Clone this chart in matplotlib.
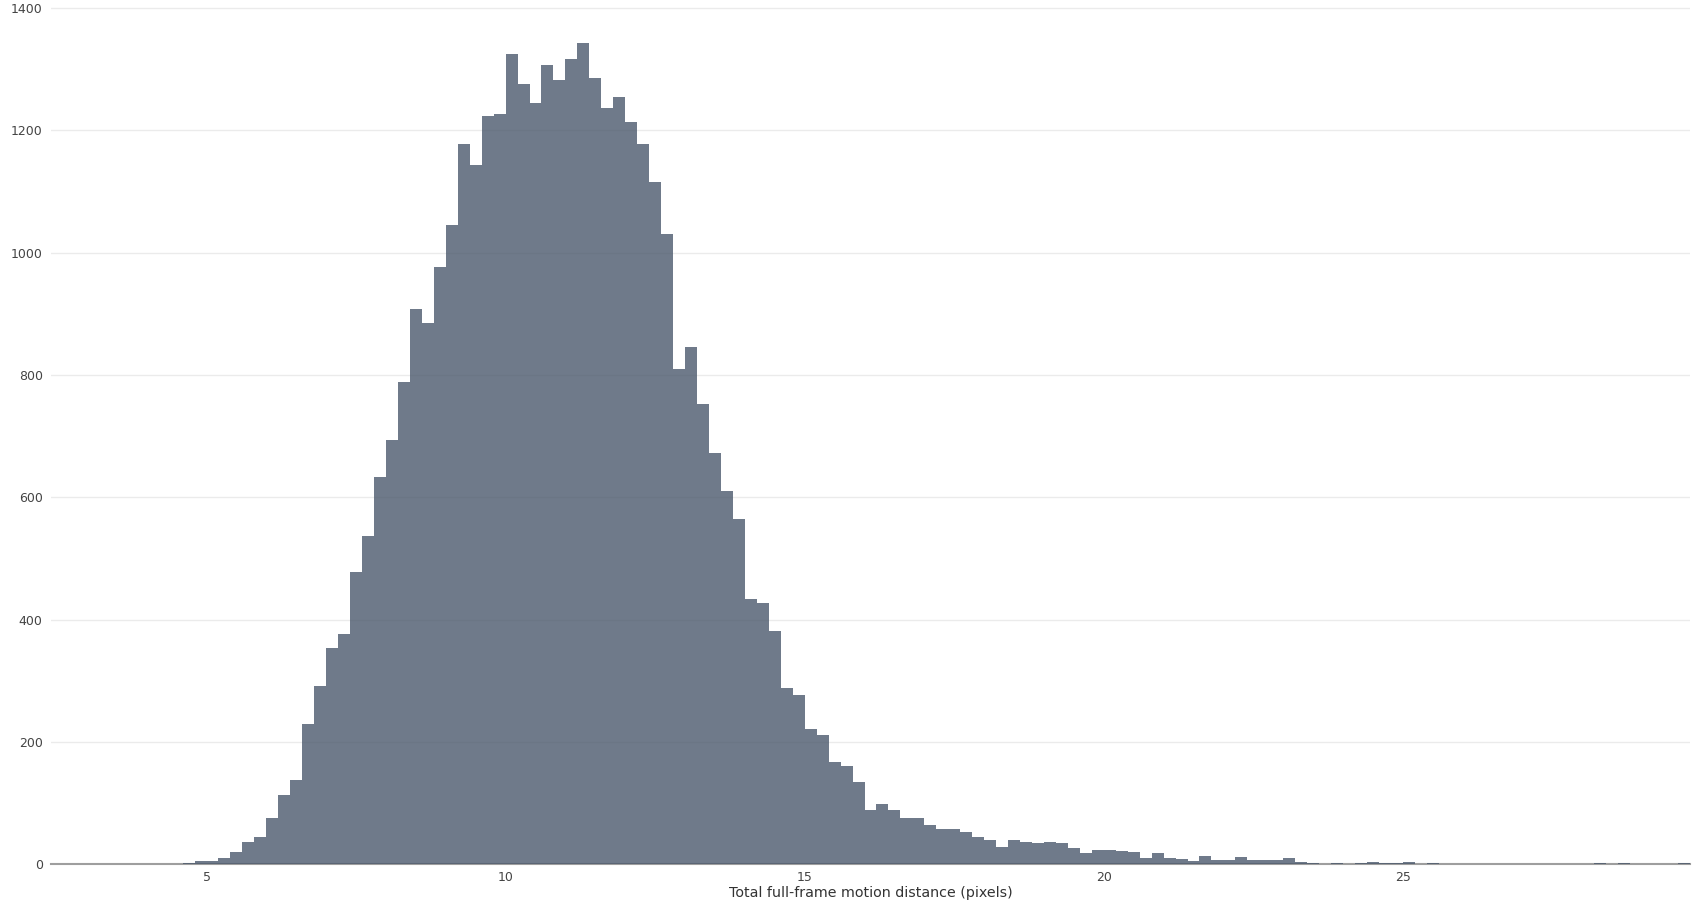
import matplotlib
matplotlib.use("Agg")
import matplotlib.pyplot as plt
import numpy as np

# histogram bins (width 0.2)
bin_start = 2.4
bin_width = 0.2
counts = [
    1, 0, 0, 0, 0, 1, 0, 0, 0, 1,
    1, 2, 5, 5, 10, 20, 37, 45, 76, 114,
    138, 230, 292, 353, 376, 478, 537, 633, 693, 788,
    907, 885, 976, 1045, 1177, 1143, 1224, 1226, 1325, 1276,
    1244, 1307, 1283, 1317, 1343, 1286, 1236, 1254, 1214, 1178,
    1115, 1030, 809, 846, 752, 673, 611, 564, 433, 427,
    381, 289, 276, 221, 211, 168, 160, 135, 89, 98,
    89, 76, 76, 65, 58, 58, 53, 45, 39, 29,
    40, 36, 34, 36, 34, 27, 18, 24, 24, 21,
    20, 11, 18, 11, 9, 6, 13, 7, 7, 12,
    7, 7, 7, 10, 4, 2, 1, 2, 1, 2,
    4, 2, 2, 4, 1, 2, 1, 1, 1, 1,
    1, 0, 1, 1, 1, 0, 1, 1, 0, 2,
    1, 2, 1, 0, 1, 1, 2,
]
x_ticks = [5, 10, 15, 20, 25]
y_ticks = [0, 200, 400, 600, 800, 1000, 1200, 1400]
x_title = "Total full-frame motion distance (pixels)"

edges = bin_start + bin_width * np.arange(len(counts) + 1)

fig = plt.figure(figsize=(17, 9), dpi=100)
ax = fig.add_axes([0.030, 0.0397, 0.9641, 0.9603])

# one filled step polygon, crisp edges like the original
ax.stairs(counts, edges, fill=True, facecolor="#475569", edgecolor="none",
          alpha=0.78, linewidth=0, antialiased=False, zorder=3)

ax.set_xlim(edges[0], edges[-1])
ax.set_ylim(0, 1413)
ax.set_xticks(x_ticks)
ax.set_yticks(y_ticks)

ax.set_axisbelow(True)
ax.grid(axis="y", color="#ebebeb", linewidth=1)
ax.grid(axis="x", visible=False)

for s in ["top", "right", "left"]:
    ax.spines[s].set_visible(False)
ax.spines["bottom"].set_color("#9e9e9e")
ax.spines["bottom"].set_linewidth(1.5)

ax.tick_params(axis="both", length=0, labelsize=9, colors="#444444")
ax.tick_params(axis="x", pad=5)
ax.tick_params(axis="y", pad=6)

ax.set_xlabel(x_title, fontsize=10.3, color="#333333", labelpad=1)

fig.savefig("out.png", dpi=100, facecolor="white")
